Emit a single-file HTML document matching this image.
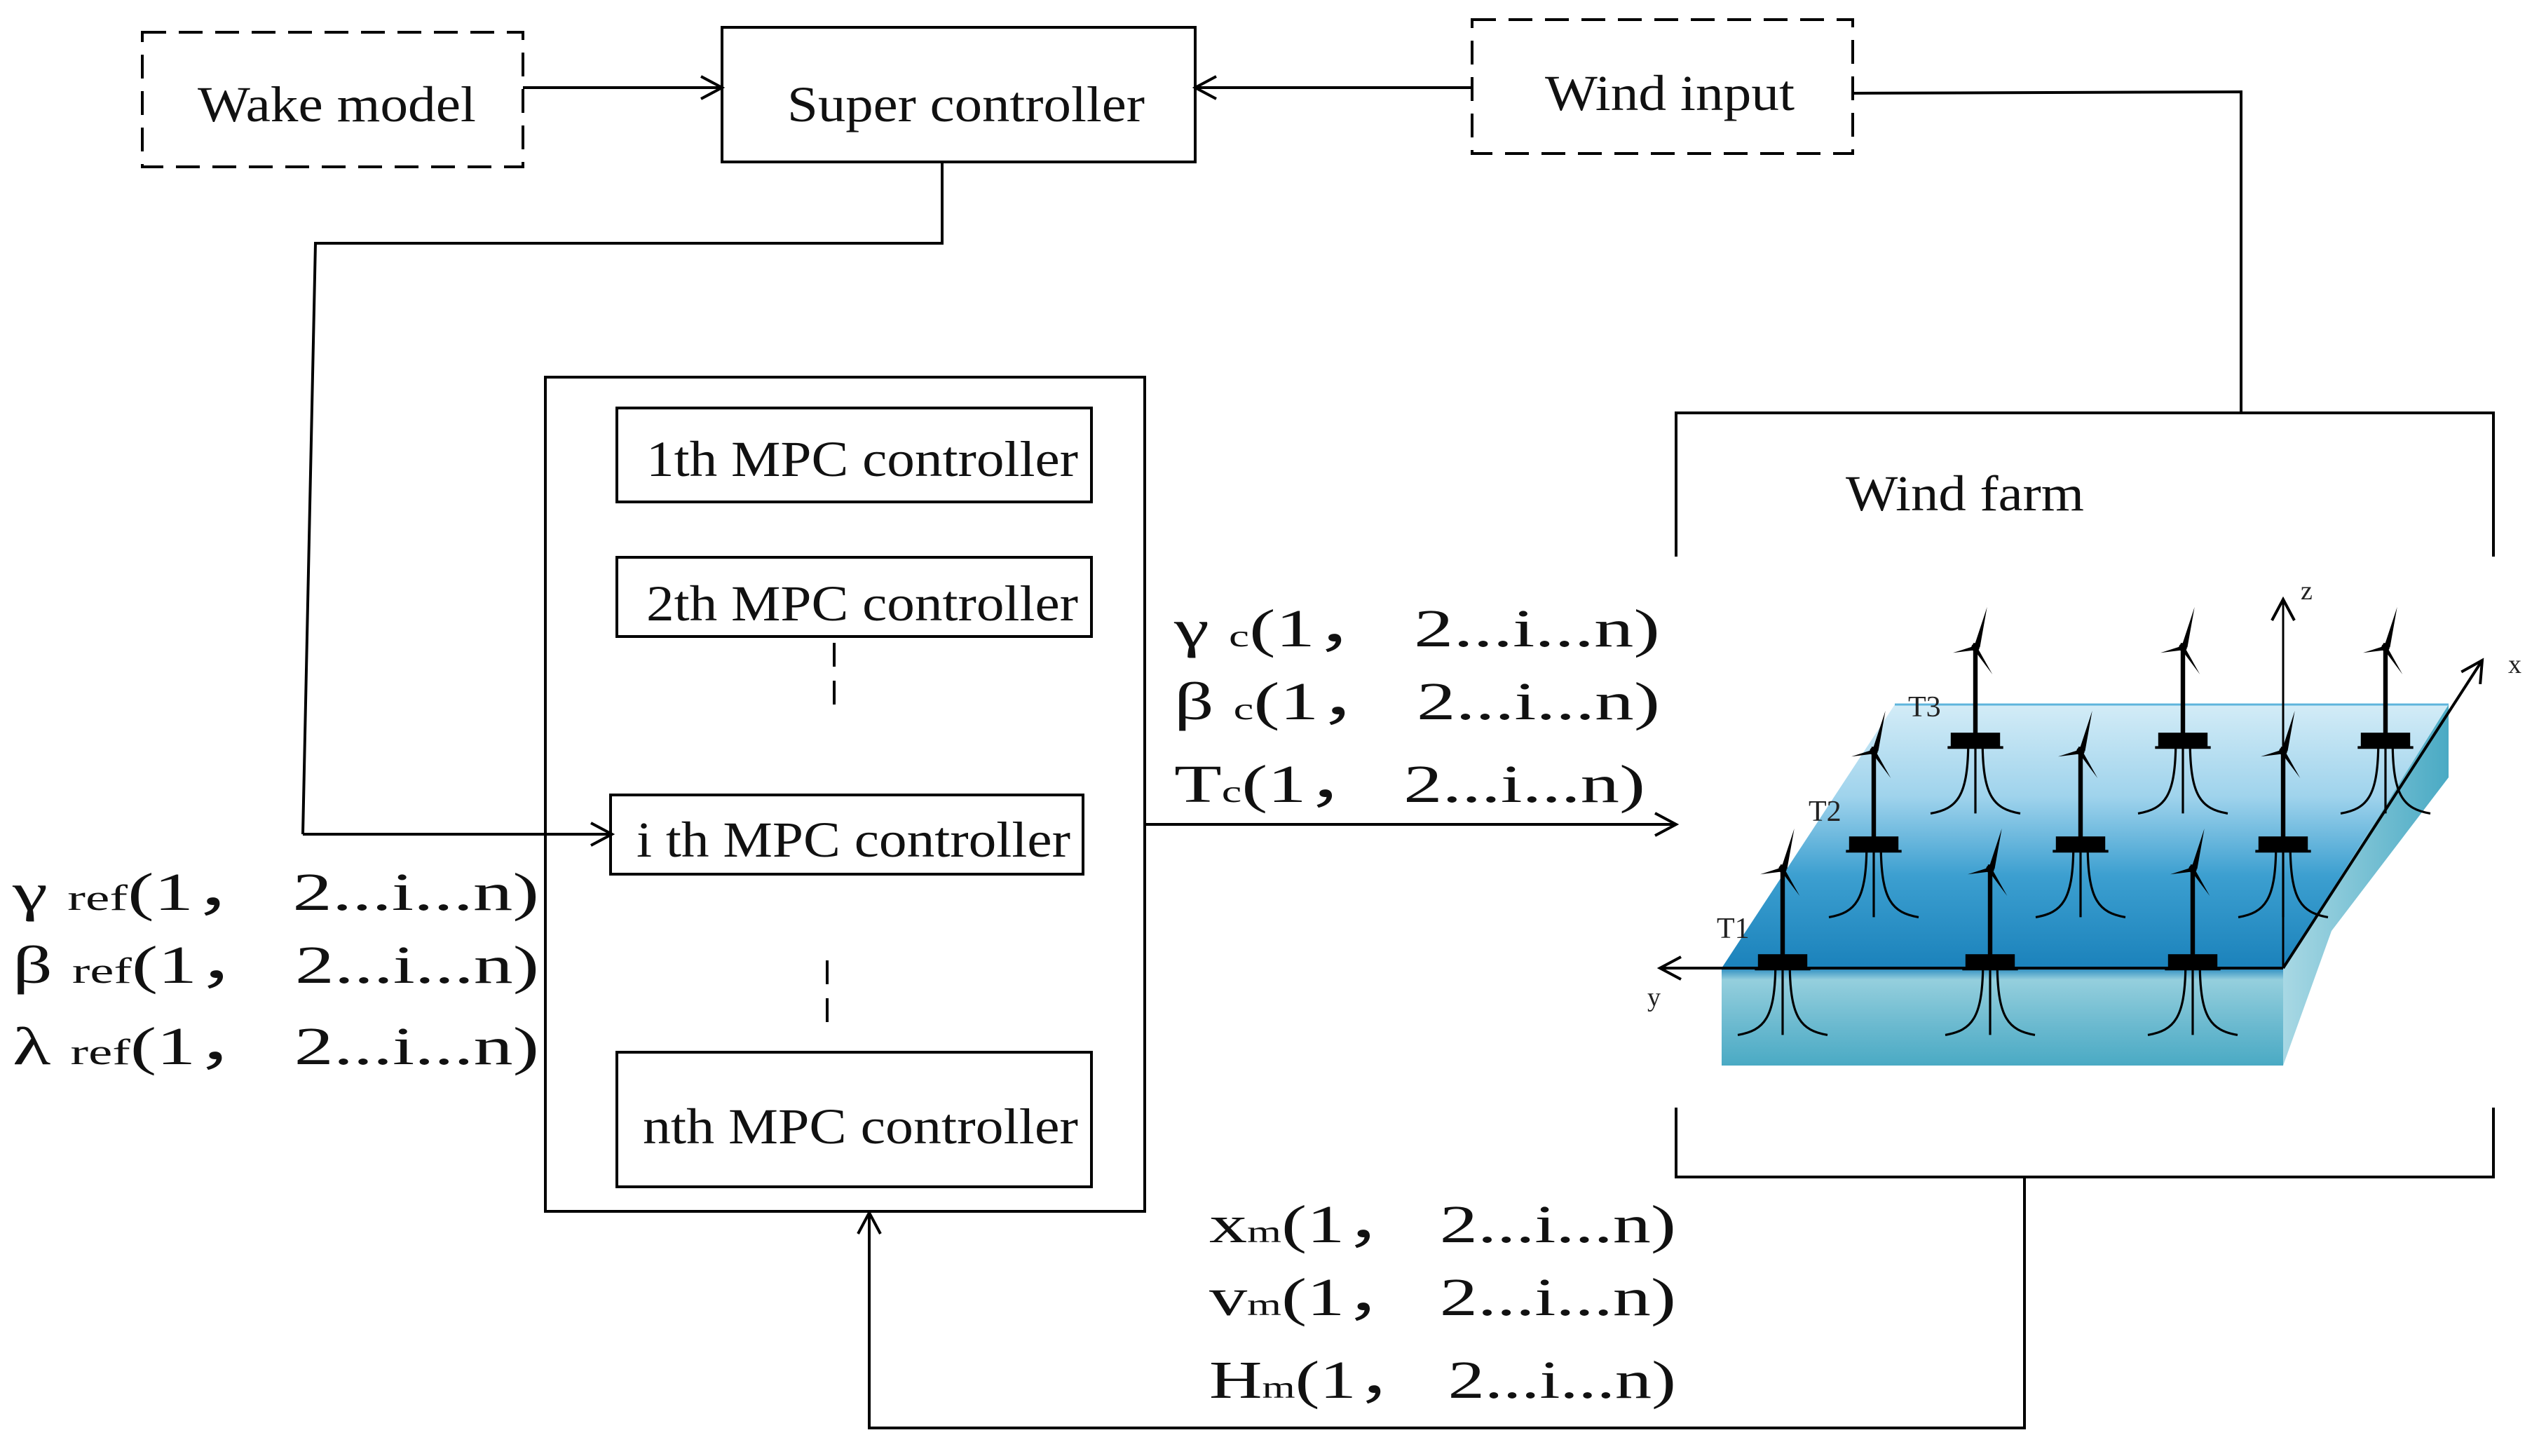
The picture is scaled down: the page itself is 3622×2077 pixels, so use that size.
<!DOCTYPE html>
<html><head><meta charset="utf-8"><style>
html,body{margin:0;padding:0;background:#fff}
svg{display:block}
text{font-family:"Liberation Serif",serif;fill:#111}
.lb{fill:#222}
</style></head><body>
<svg width="3622" height="2077" viewBox="0 0 3622 2077" xmlns="http://www.w3.org/2000/svg">
<defs>
<marker id="ar" markerWidth="40" markerHeight="40" refX="36" refY="20" orient="auto" markerUnits="userSpaceOnUse">
<path d="M6,4 L36,20 L6,36" fill="none" stroke="#000" stroke-width="4"/>
</marker>
<linearGradient id="top" x1="0" y1="0" x2="0" y2="1">
<stop offset="0" stop-color="#d3ecf7"/><stop offset="0.35" stop-color="#9fd3ec"/><stop offset="0.65" stop-color="#3c9fd0"/><stop offset="1" stop-color="#1b82bb"/>
</linearGradient>
<linearGradient id="front" x1="0" y1="0" x2="0" y2="1">
<stop offset="0" stop-color="#2b8cc0"/><stop offset="0.12" stop-color="#95cfdd"/><stop offset="0.6" stop-color="#6ab9cf"/><stop offset="1" stop-color="#4aaac4"/>
</linearGradient>
<linearGradient id="side" x1="0" y1="0" x2="1" y2="0">
<stop offset="0" stop-color="#a8d8e4"/><stop offset="1" stop-color="#4aaac4"/>
</linearGradient>
<g id="tb">
<line x1="0" y1="0" x2="0" y2="-220" stroke="#000" stroke-width="10"/>
<path d="M-2,-215 L26,-300 L10,-210 Z" fill="#000"/>
<path d="M0,-214 L-50,-198 L-2,-204 Z" fill="#000"/>
<path d="M2,-214 L38,-150 L-4,-206 Z" fill="#000"/>
<circle cx="0" cy="-210" r="9" fill="#000"/>
<rect x="-55" y="-20" width="110" height="32" fill="#000"/>
<rect x="-62" y="10" width="124" height="6" fill="#000"/>
<line x1="0" y1="12" x2="0" y2="160" stroke="#000" stroke-width="5"/>
<path d="M-16,12 C-18,120 -40,150 -100,160" fill="none" stroke="#000" stroke-width="5"/>
<path d="M16,12 C18,120 40,150 100,160" fill="none" stroke="#000" stroke-width="5"/>
</g>
</defs>

<g fill="none" stroke="#000" stroke-width="4">
<rect x="203" y="46" width="543" height="192" stroke-dasharray="34,18"/>
<rect x="1030" y="39" width="675" height="192"/>
<rect x="2100" y="28" width="543" height="191" stroke-dasharray="34,18"/>
<line x1="746" y1="125" x2="1030" y2="125" marker-end="url(#ar)"/>
<line x1="2100" y1="125" x2="1705" y2="125" marker-end="url(#ar)"/>
<polyline points="2643,133 3197,131 3197,589"/>
<polyline points="2391,794 2391,589 3557,589 3557,794"/>
<polyline points="2391,1580 2391,1679 3557,1679 3557,1580"/>
<polyline points="1344,231 1344,347 450,347 432,1190"/>
<line x1="432" y1="1190" x2="873" y2="1190" marker-end="url(#ar)"/>
<rect x="778" y="538" width="855" height="1190"/>
<rect x="880" y="582" width="677" height="134"/>
<rect x="880" y="795" width="677" height="113"/>
<rect x="871" y="1134" width="674" height="113"/>
<rect x="880" y="1501" width="677" height="192"/>
<line x1="1190" y1="917" x2="1190" y2="1016" stroke-dasharray="34,20"/>
<line x1="1180" y1="1370" x2="1180" y2="1471" stroke-dasharray="34,20"/>
<line x1="1633" y1="1176" x2="2391" y2="1176" marker-end="url(#ar)"/>
<polyline points="2888,1679 2888,2037 1240,2037 1240,1730" marker-end="url(#ar)"/>
</g>

<polygon points="2456,1381 3257,1381 3257,1520 2456,1520" fill="url(#front)"/>
<polygon points="3257,1381 3493,1005 3493,1109 3326,1328 3257,1520" fill="url(#side)"/>
<polygon points="2703,1005 3493,1005 3257,1381 2456,1381" fill="url(#top)"/>
<line x1="2703" y1="1005" x2="3493" y2="1005" stroke="#5fb4dc" stroke-width="3"/>

<g transform="translate(2818,1058) scale(0.64)"><use href="#tb"/></g>
<g transform="translate(3114,1058) scale(0.64)"><use href="#tb"/></g>
<g transform="translate(3403,1058) scale(0.64)"><use href="#tb"/></g>
<g transform="translate(2673,1206) scale(0.64)"><use href="#tb"/></g>
<g transform="translate(2968,1206) scale(0.64)"><use href="#tb"/></g>
<g transform="translate(3257,1206) scale(0.64)"><use href="#tb"/></g>
<g transform="translate(2543,1374) scale(0.64)"><use href="#tb"/></g>
<g transform="translate(2839,1374) scale(0.64)"><use href="#tb"/></g>
<g transform="translate(3128,1374) scale(0.64)"><use href="#tb"/></g>

<g fill="none" stroke="#000" stroke-width="4">
<line x1="3257" y1="1381" x2="3257" y2="855" stroke-width="3" marker-end="url(#ar)"/>
<line x1="3257" y1="1381" x2="3541" y2="942" marker-end="url(#ar)"/>
<line x1="3257" y1="1381" x2="2368" y2="1381" marker-end="url(#ar)"/>
</g>
<text x="3282" y="855" font-size="38" class="lb">z</text>
<text x="3578" y="960" font-size="38" class="lb">x</text>
<text x="2350" y="1435" font-size="38" class="lb">y</text>
<text x="2722" y="1022" font-size="42" class="lb">T3</text>
<text x="2580" y="1171" font-size="42" class="lb">T2</text>
<text x="2449" y="1338" font-size="42" class="lb">T1</text>

<g font-size="72">
<text x="282" y="173" textLength="397" lengthAdjust="spacingAndGlyphs">Wake model</text>
<text x="1123" y="173" textLength="510" lengthAdjust="spacingAndGlyphs">Super controller</text>
<text x="2204" y="157" textLength="356" lengthAdjust="spacingAndGlyphs">Wind input</text>
<text x="2633" y="728" textLength="340" lengthAdjust="spacingAndGlyphs">Wind farm</text>
<text x="922" y="679" textLength="616" lengthAdjust="spacingAndGlyphs">1th MPC controller</text>
<text x="922" y="885" textLength="616" lengthAdjust="spacingAndGlyphs">2th MPC controller</text>
<text x="908" y="1222" textLength="619" lengthAdjust="spacingAndGlyphs">i th MPC controller</text>
<text x="917" y="1631" textLength="621" lengthAdjust="spacingAndGlyphs">nth MPC controller</text>
</g>

<g font-size="76" class="lb">
<text x="1675" y="922" textLength="693" lengthAdjust="spacingAndGlyphs">γ <tspan font-size="44">c</tspan>(1，&#160;2...i...n)</text>
<text x="1675" y="1026" textLength="693" lengthAdjust="spacingAndGlyphs">β <tspan font-size="44">c</tspan>(1，&#160;2...i...n)</text>
<text x="1675" y="1144" textLength="672" lengthAdjust="spacingAndGlyphs">T<tspan font-size="44">c</tspan>(1，&#160;2...i...n)</text>
<text x="18" y="1298" textLength="751" lengthAdjust="spacingAndGlyphs">γ <tspan font-size="52">ref</tspan>(1，&#160;2...i...n)</text>
<text x="18" y="1402" textLength="751" lengthAdjust="spacingAndGlyphs">β <tspan font-size="52">ref</tspan>(1，&#160;2...i...n)</text>
<text x="18" y="1518" textLength="751" lengthAdjust="spacingAndGlyphs">λ <tspan font-size="52">ref</tspan>(1，&#160;2...i...n)</text>
<text x="1725" y="1772" textLength="666" lengthAdjust="spacingAndGlyphs">x<tspan font-size="44">m</tspan>(1，&#160;2...i...n)</text>
<text x="1725" y="1876" textLength="666" lengthAdjust="spacingAndGlyphs">v<tspan font-size="44">m</tspan>(1，&#160;2...i...n)</text>
<text x="1725" y="1994" textLength="666" lengthAdjust="spacingAndGlyphs">H<tspan font-size="44">m</tspan>(1，&#160;2...i...n)</text>
</g>
</svg>
</body></html>
